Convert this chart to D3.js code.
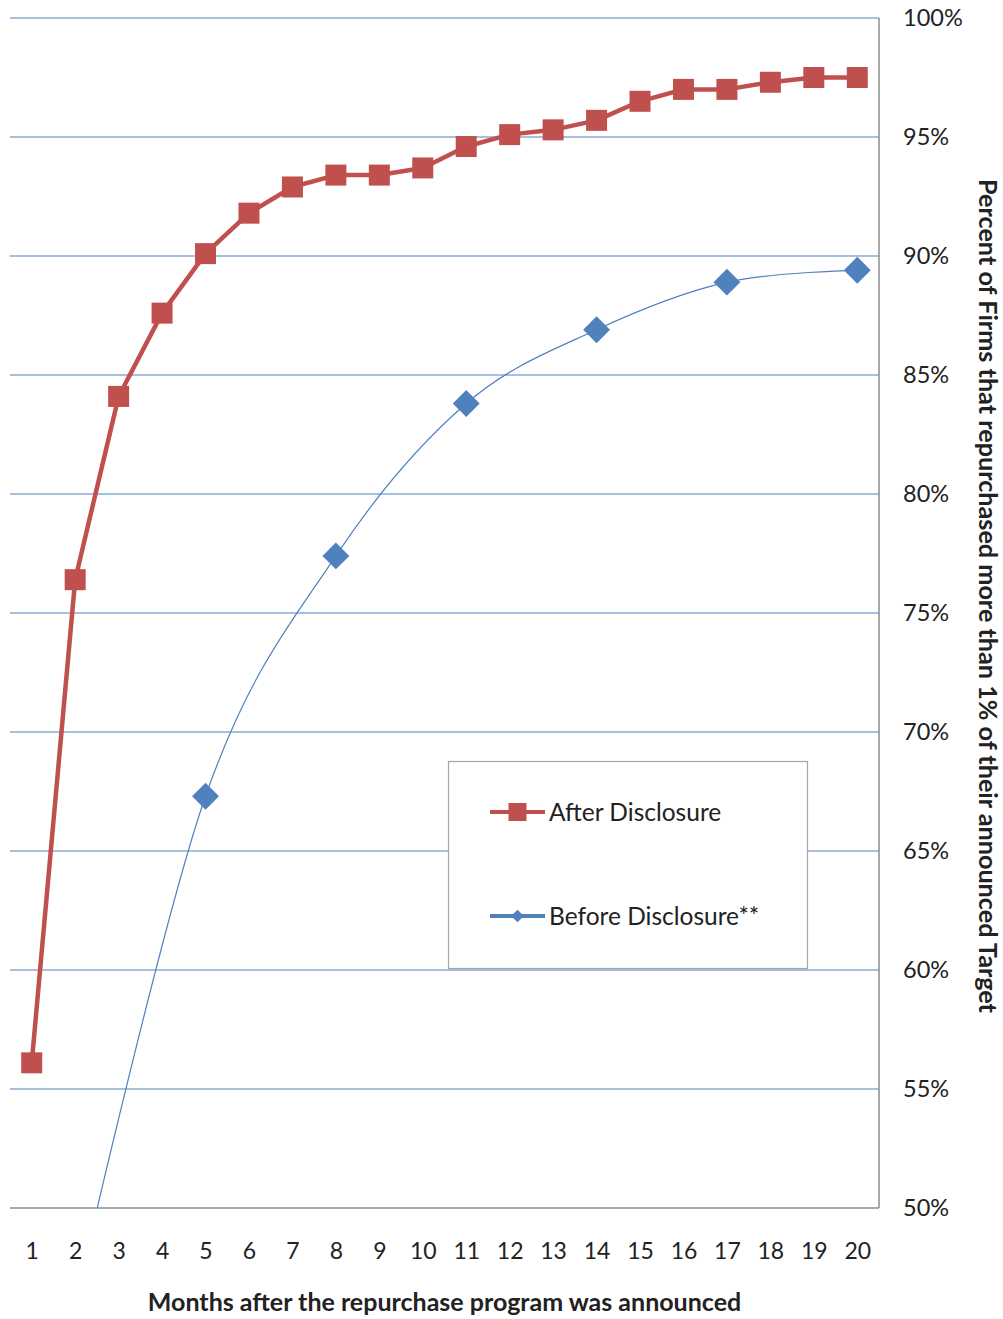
<!DOCTYPE html>
<html>
<head>
<meta charset="utf-8">
<script src="https://cdn.jsdelivr.net/npm/d3@7"></script>
<style>
  html, body { margin: 0; padding: 0; background: #fff; }
  svg { display: block; }
  text { font-family: Lato, "Open Sans", sans-serif; fill: #222; }
</style>
</head>
<body>
<svg id="chart" width="1003" height="1319"></svg>
<script>
// ---- data ----
const months = [1,2,3,4,5,6,7,8,9,10,11,12,13,14,15,16,17,18,19,20];
const afterValues = [56.1,76.4,84.1,87.6,90.1,91.8,92.9,93.4,93.4,93.7,94.6,95.1,95.3,95.7,96.5,97.0,97.0,97.3,97.5,97.5];
const beforeMonths = [2,5,8,11,14,17,20];
const beforeValues = [46.0,67.3,77.4,83.8,86.9,88.9,89.4];
const yTicks = [50,55,60,65,70,75,80,85,90,95,100];
const seriesNames = ["After Disclosure","Before Disclosure**"];
const xTitle = "Months after the repurchase program was announced";
const yTitle = "Percent of Firms that repurchased more than 1% of their announced Target";

// ---- layout ----
const plot = {left: 10, right: 879, top: 18, bottom: 1208};
const redC = "#C0504D", blueC = "#4F81BD", gridC = "#4F81BD", axisC = "#8c8c8c";

const svg = d3.select("#chart");
const x = d3.scalePoint().domain(months).range([plot.left, plot.right]).padding(0.5);
const y = d3.scaleLinear().domain([50,100]).range([plot.bottom, plot.top]);

// gridlines
svg.append("g").selectAll("line")
  .data(yTicks.filter(d => d > 50))
  .join("line")
  .attr("x1", plot.left).attr("x2", plot.right)
  .attr("y1", d => y(d)).attr("y2", d => y(d))
  .attr("stroke", gridC).attr("stroke-width", 1.2);

// bottom axis
const gx = svg.append("g").attr("transform", `translate(0,${plot.bottom})`)
  .call(d3.axisBottom(x).tickSize(0).tickPadding(35));
gx.select(".domain").attr("stroke", axisC).attr("stroke-width", 1.5)
  .attr("d", `M${plot.left},0H${plot.right}`);
gx.selectAll("text").style("font-size", "23px").style("font-family", "Lato").attr("fill", "#222");

// right axis
const gy = svg.append("g").attr("transform", `translate(${plot.right},0)`)
  .call(d3.axisRight(y).tickValues(yTicks).tickSize(0).tickPadding(24).tickFormat(d => d + "%"));
gy.select(".domain").attr("stroke", axisC).attr("stroke-width", 1.5)
  .attr("d", `M0,${plot.top}V${plot.bottom}`);
gy.selectAll("text").style("font-size", "23.5px").style("font-family", "Lato").attr("fill", "#222");

// clip
svg.append("clipPath").attr("id", "clip").append("rect")
  .attr("x", plot.left).attr("y", plot.top - 20)
  .attr("width", plot.right - plot.left).attr("height", plot.bottom - plot.top + 20);

// before series (smoothed)
const beforeData = beforeMonths.map((m, i) => ({m, v: beforeValues[i]}));
const lineB = d3.line().x(d => x(d.m)).y(d => y(d.v)).curve(d3.curveCardinal.tension(0));
svg.append("path").attr("clip-path", "url(#clip)")
  .attr("d", lineB(beforeData)).attr("fill", "none")
  .attr("stroke", blueC).attr("stroke-width", 1.2);
const diamond = d3.symbol().type(d3.symbolSquare).size(19*19);
svg.append("g").attr("clip-path", "url(#clip)").selectAll("path")
  .data(beforeData.filter(d => d.v >= 50))
  .join("path")
  .attr("d", diamond)
  .attr("transform", d => `translate(${x(d.m)},${y(d.v)}) rotate(45)`)
  .attr("fill", blueC);

// after series
const afterData = months.map((m, i) => ({m, v: afterValues[i]}));
const lineA = d3.line().x(d => x(d.m)).y(d => y(d.v));
svg.append("path").attr("d", lineA(afterData)).attr("fill", "none")
  .attr("stroke", redC).attr("stroke-width", 4.5).attr("stroke-linejoin", "round");
svg.append("g").selectAll("rect")
  .data(afterData).join("rect")
  .attr("x", d => x(d.m) - 10.5).attr("y", d => y(d.v) - 10.5)
  .attr("width", 21).attr("height", 21).attr("fill", redC);

// legend
const lg = svg.append("g");
lg.append("rect").attr("x", 448.5).attr("y", 761.5).attr("width", 359).attr("height", 207)
  .attr("fill", "#fff").attr("stroke", "#a6a6a6").attr("stroke-width", 1.2);
const legendRows = [
  {name: seriesNames[0], color: redC, y: 812, marker: "square"},
  {name: seriesNames[1], color: blueC, y: 916, marker: "diamond"}
];
legendRows.forEach(r => {
  lg.append("line").attr("x1", 490).attr("x2", 545).attr("y1", r.y).attr("y2", r.y)
    .attr("stroke", r.color).attr("stroke-width", 4);
  if (r.marker === "square") {
    lg.append("rect").attr("x", 517.5 - 9).attr("y", r.y - 9).attr("width", 18).attr("height", 18).attr("fill", r.color);
  } else {
    lg.append("path").attr("d", d3.symbol().type(d3.symbolSquare).size(9*9))
      .attr("transform", `translate(517.5,${r.y}) rotate(45)`).attr("fill", r.color);
  }
  lg.append("text").attr("x", 549).attr("y", r.y).attr("dy", "0.35em")
    .style("font-size", "24.5px").text(r.name);
});

// axis titles
svg.append("text").attr("x", (plot.left + plot.right) / 2).attr("y", 1311)
  .attr("text-anchor", "middle").style("font-size", "25px").style("font-weight", "bold")
  .attr("fill", "#111").text(xTitle);
svg.append("text").attr("transform", "translate(979,596) rotate(90)")
  .attr("text-anchor", "middle").style("font-size", "25.2px").style("font-weight", "bold")
  .attr("fill", "#111").text(yTitle);
</script>
</body>
</html>
